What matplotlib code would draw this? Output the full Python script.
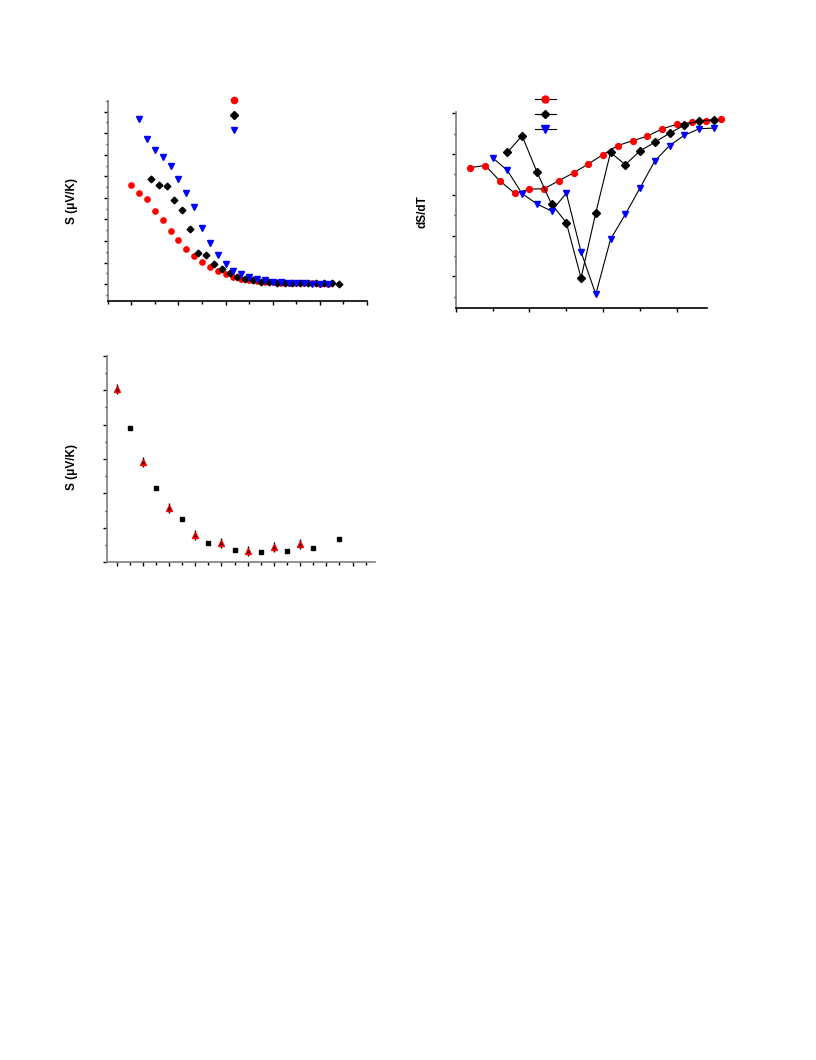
import matplotlib
matplotlib.use("Agg")
import matplotlib.pyplot as plt
from matplotlib.lines import Line2D
from matplotlib.ticker import MultipleLocator

plt.rcParams['font.family'] = ['Liberation Sans', 'DejaVu Sans']

# panel 1: S vs T, three samples
t1_red = [1.0, 1.33, 1.67, 2.0, 2.33, 2.67, 3.0, 3.33, 3.67, 4.0, 4.33, 4.67, 5.0,
          5.33, 5.67, 6.0, 6.33, 6.67, 7.0, 7.33, 7.67, 8.0, 8.33, 8.67, 9.0, 9.33]
s1_red = [4.58, 4.24, 3.95, 3.41, 2.96, 2.48, 2.03, 1.64, 1.30, 1.02, 0.79, 0.62, 0.45,
          0.34, 0.25, 0.19, 0.14, 0.11, 0.08, 0.06, 0.05, 0.03, 0.03, 0.03, 0.02, 0.02]
t1_blk = [1.83, 2.17, 2.5, 2.83, 3.17, 3.5, 3.83, 4.17, 4.5, 4.83, 5.17, 5.5, 5.83,
          6.17, 6.5, 6.83, 7.17, 7.5, 7.83, 8.17, 8.5, 8.83, 9.17, 9.5, 9.83]
s1_blk = [4.86, 4.60, 4.57, 3.89, 3.45, 2.54, 1.44, 1.33, 0.94, 0.70, 0.50, 0.33, 0.22,
          0.17, 0.12, 0.09, 0.06, 0.06, 0.05, 0.05, 0.03, 0.03, 0.03, 0.03, 0.02]
t1_blu = [1.33, 1.67, 2.0, 2.33, 2.67, 3.0, 3.33, 3.67, 4.0, 4.33, 4.67, 5.0, 5.33,
          5.67, 6.0, 6.33, 6.67, 7.0, 7.33, 7.67, 8.0, 8.33, 8.67, 9.0, 9.33]
s1_blu = [7.68, 6.73, 6.21, 5.90, 5.48, 4.89, 4.24, 3.59, 2.62, 1.92, 1.35, 0.93, 0.63,
          0.46, 0.33, 0.23, 0.17, 0.12, 0.09, 0.06, 0.05, 0.03, 0.02, 0.02, 0.02]

# panel 2: dS/dT
t2_red = [0.4, 0.8, 1.2, 1.6, 2.0, 2.4, 2.8, 3.2, 3.6, 4.0, 4.4, 4.8, 5.2, 5.6, 6.0, 6.4, 6.8, 7.2]
d2_red = [-1.33, -1.28, -1.66, -1.96, -1.86, -1.85, -1.65, -1.46, -1.24, -1.01, -0.79,
          -0.67, -0.56, -0.38, -0.27, -0.22, -0.19, -0.15]
t2_blk = [1.4, 1.8, 2.2, 2.6, 3.0, 3.4, 3.8, 4.2, 4.6, 5.0, 5.4, 5.8, 6.2, 6.6, 7.0]
d2_blk = [-0.96, -0.55, -1.43, -2.23, -2.68, -4.04, -2.44, -0.96, -1.26, -0.92, -0.71,
          -0.49, -0.29, -0.18, -0.16]
t2_blu = [1.0, 1.4, 1.8, 2.2, 2.6, 3.0, 3.4, 3.8, 4.2, 4.6, 5.0, 5.4, 5.8, 6.2, 6.6, 7.0]
d2_blu = [-1.09, -1.40, -1.97, -2.22, -2.40, -1.96, -3.40, -4.44, -3.09, -2.48, -1.83,
          -1.17, -0.79, -0.54, -0.38, -0.36]

# panel 3: S vs T, two runs
t3_tri = [0, 1, 2, 3, 4, 5, 6, 7]
s3_tri = [5.04, 2.90, 1.59, 0.79, 0.55, 0.32, 0.45, 0.54]
t3_sq = [0.5, 1.5, 2.5, 3.5, 4.5, 5.5, 6.5, 7.5, 8.5]
s3_sq = [3.90, 2.17, 1.25, 0.57, 0.36, 0.29, 0.33, 0.41, 0.67]

RED = '#ff0000'
BLUE = '#0000ff'
GRAY = '#7f7f7f'

fig = plt.figure(figsize=(8.16, 10.6), dpi=100)


def style(ax, bottom_color='black'):
    for s in ['top', 'right']:
        ax.spines[s].set_visible(False)
    ax.spines['left'].set_color(GRAY)
    ax.spines['left'].set_linewidth(1.2)
    ax.spines['bottom'].set_color(bottom_color)
    ax.spines['bottom'].set_linewidth(1.2)
    ax.tick_params(which='major', length=3, width=1, labelleft=False, labelbottom=False)
    ax.tick_params(which='minor', length=1.8, width=1)


# ---- panel 1
ax1 = fig.add_axes([0.132, 0.7163, 0.3178, 0.1887])
ax1.plot(t1_red, s1_red, 'o', color=RED, ms=3.8, mec=RED, clip_on=False)
ax1.plot(t1_blk, s1_blk, 'D', color='black', ms=3.4, clip_on=False)
ax1.plot(t1_blu, s1_blu, 'v', color=BLUE, ms=4.2, clip_on=False)
ax1.set_xlim(0, 11)
ax1.set_ylim(-0.77, 8.51)
ax1.xaxis.set_major_locator(MultipleLocator(2, offset=1))
ax1.xaxis.set_minor_locator(MultipleLocator(1))
ax1.yaxis.set_major_locator(MultipleLocator(1))
ax1.yaxis.set_minor_locator(MultipleLocator(0.5))
style(ax1)
ax1.set_ylabel('S (\u03bcV/K)', fontsize=8.5, fontweight='bold')
ax1.yaxis.set_label_coords(-0.115, 0.5)
h1 = [Line2D([], [], ls='none', marker='o', color=RED, ms=4.5),
      Line2D([], [], ls='none', marker='D', color='black', ms=4),
      Line2D([], [], ls='none', marker='v', color=BLUE, ms=5)]
ax1.legend(h1, ['', '', ''], loc='center', bbox_to_anchor=(0.487, 0.923), frameon=False,
           handlelength=1, handletextpad=0, borderpad=0, labelspacing=0.45, fontsize=8,
           borderaxespad=0)

# ---- panel 2
ax2 = fig.add_axes([0.5585, 0.7097, 0.3076, 0.1849])
ax2.plot(t2_red, d2_red, '-o', color='black', mfc=RED, mec=RED, ms=4.2, lw=0.8, clip_on=False)
ax2.plot(t2_blk, d2_blk, '-D', color='black', ms=3.6, lw=0.8, clip_on=False)
ax2.plot(t2_blu, d2_blu, '-v', color='black', mfc=BLUE, mec=BLUE, ms=4.6, lw=0.8, clip_on=False)
ax2.set_xlim(0, 6.81)
ax2.set_ylim(-4.77, 0.04)
ax2.xaxis.set_major_locator(MultipleLocator(2))
ax2.xaxis.set_minor_locator(MultipleLocator(1))
ax2.yaxis.set_major_locator(MultipleLocator(1))
ax2.yaxis.set_minor_locator(MultipleLocator(0.5))
style(ax2)
ax2.set_ylabel('dS/dT', fontsize=8.5, fontweight='bold')
ax2.yaxis.set_label_coords(-0.109, 0.49)
h2 = [Line2D([], [], marker='o', color='black', mfc=RED, mec=RED, ms=5, lw=0.8),
      Line2D([], [], marker='D', color='black', ms=4.4, lw=0.8),
      Line2D([], [], marker='v', color='black', mfc=BLUE, mec=BLUE, ms=5.5, lw=0.8)]
ax2.legend(h2, ['', '', ''], loc='center', bbox_to_anchor=(0.356, 0.985), frameon=False,
           handlelength=1.9, handletextpad=0, borderpad=0, labelspacing=0.45, fontsize=8,
           borderaxespad=0)

# ---- panel 3
ax3 = fig.add_axes([0.1308, 0.4695, 0.3288, 0.1949])
ax3.plot(t3_sq, s3_sq, 's', color='black', ms=3.4, clip_on=False)
ax3.plot(t3_tri, s3_tri, '|', color='black', ms=6.5, mew=1, clip_on=False)
ax3.plot(t3_tri, s3_tri, '^', color=RED, ms=5, mec=RED, clip_on=False)
ax3.plot(t3_tri, s3_tri, '^', color='#5a0000', ms=2.8, mec='none', clip_on=False)
ax3.set_xlim(-0.38, 9.86)
ax3.set_ylim(0, 6)
ax3.xaxis.set_major_locator(MultipleLocator(1))
ax3.xaxis.set_minor_locator(MultipleLocator(0.5))
ax3.yaxis.set_major_locator(MultipleLocator(1))
ax3.yaxis.set_minor_locator(MultipleLocator(0.5))
style(ax3, bottom_color=GRAY)
ax3.set_ylabel('S (\u03bcV/K)', fontsize=8.5, fontweight='bold')
ax3.yaxis.set_label_coords(-0.106, 0.463)

fig.savefig('out.png', dpi=100)
